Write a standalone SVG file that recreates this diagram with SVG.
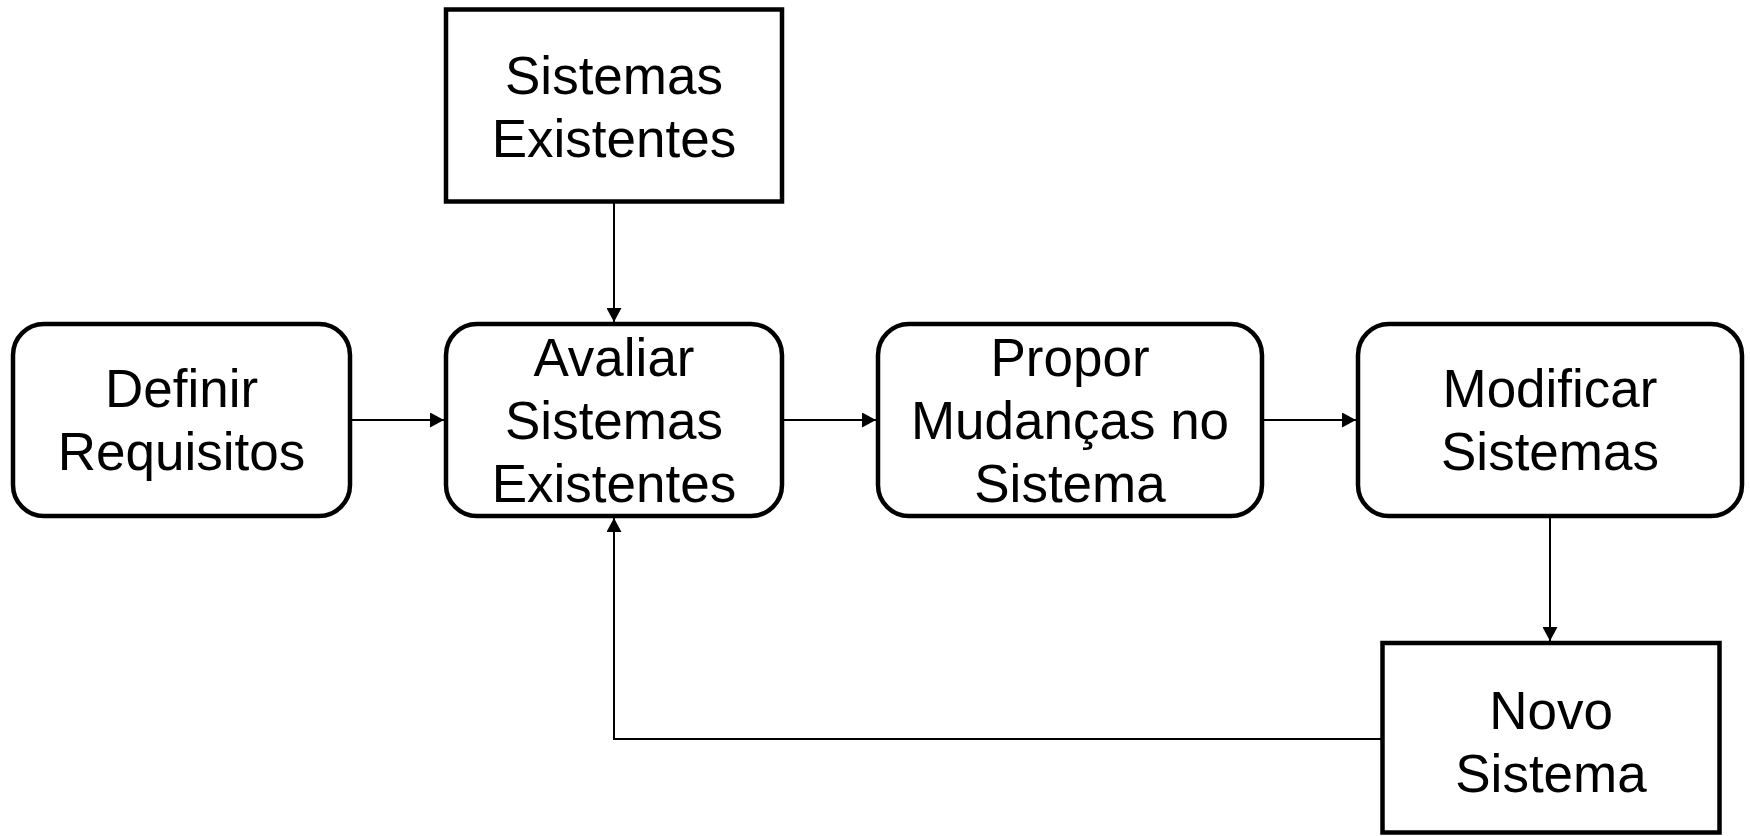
<svg xmlns="http://www.w3.org/2000/svg" width="1750" height="836" viewBox="0 0 1750 836">
<style>
.box{fill:#fff;stroke:#000;stroke-width:4.5}
.lbl{font-family:"Liberation Sans",Arial,sans-serif;font-size:53px;fill:#000;text-anchor:middle}
.conn{fill:none;stroke:#000;stroke-width:2}
</style>
<defs>
<marker id="arr" markerUnits="userSpaceOnUse" markerWidth="15" markerHeight="15" refX="14" refY="7.5" orient="auto">
<path d="M0,0 L14,7.5 L0,15 z" fill="#000"/>
</marker>
</defs>
<rect width="1750" height="836" fill="#fff"/>
<g id="connectors">
<line class="conn" x1="614" y1="201" x2="614" y2="322" marker-end="url(#arr)"/>
<line class="conn" x1="350" y1="420" x2="444" y2="420" marker-end="url(#arr)"/>
<line class="conn" x1="782" y1="420" x2="876" y2="420" marker-end="url(#arr)"/>
<line class="conn" x1="1262" y1="420" x2="1356" y2="420" marker-end="url(#arr)"/>
<line class="conn" x1="1550" y1="516" x2="1550" y2="641" marker-end="url(#arr)"/>
<polyline class="conn" points="1382,739 614,739 614,518" marker-end="url(#arr)"/>
</g>
<g id="sistemas-existentes">
<rect class="box" x="446" y="9.5" width="336" height="192"/>
<text class="lbl" x="614" y="94">Sistemas</text>
<text class="lbl" x="614" y="157">Existentes</text>
</g>
<g id="definir-requisitos">
<rect class="box" x="13" y="324" width="337" height="192" rx="31" ry="31"/>
<text class="lbl" x="181.5" y="407">Definir</text>
<text class="lbl" x="181.5" y="470">Requisitos</text>
</g>
<g id="avaliar-sistemas">
<rect class="box" x="446" y="324" width="336" height="192" rx="31" ry="31"/>
<text class="lbl" x="614" y="376">Avaliar</text>
<text class="lbl" x="614" y="439">Sistemas</text>
<text class="lbl" x="614" y="502">Existentes</text>
</g>
<g id="propor-mudancas">
<rect class="box" x="878" y="324" width="384" height="192" rx="31" ry="31"/>
<text class="lbl" x="1070" y="376">Propor</text>
<text class="lbl" x="1070" y="439">Mudanças no</text>
<text class="lbl" x="1070" y="502">Sistema</text>
</g>
<g id="modificar-sistemas">
<rect class="box" x="1358" y="324" width="384" height="192" rx="31" ry="31"/>
<text class="lbl" x="1550" y="407">Modificar</text>
<text class="lbl" x="1550" y="470">Sistemas</text>
</g>
<g id="novo-sistema">
<rect class="box" x="1382.5" y="643" width="337" height="189.5"/>
<text class="lbl" x="1551" y="729">Novo</text>
<text class="lbl" x="1551" y="792">Sistema</text>
</g>
</svg>
